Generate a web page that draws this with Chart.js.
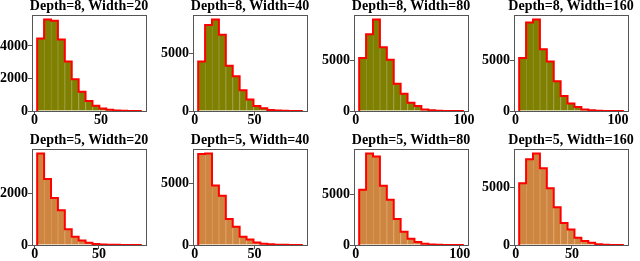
<!DOCTYPE html>
<html>
<head>
<meta charset="utf-8">
<script src="https://cdn.jsdelivr.net/npm/chart.js@4.4.0/dist/chart.umd.min.js"></script>
<style>
  html, body { margin: 0; padding: 0; background: #fff; }
  body { width: 640px; height: 261px; position: relative; overflow: hidden; }
  .panel { position: absolute; }
</style>
</head>
<body>
<script>
// panel titles, row by row
const titles = [
  'Depth=8, Width=20', 'Depth=8, Width=40', 'Depth=8, Width=80', 'Depth=8, Width=160',
  'Depth=5, Width=20', 'Depth=5, Width=40', 'Depth=5, Width=80', 'Depth=5, Width=160'
];

// histogram range (first / last bin edge), 15 bins each
const binStart = [2.0, 2.9, 3.2, 3.5, 1.9, 2.9, 3.4, 3.1];
const binEnd   = [80.0, 89.7, 98.9, 104.7, 82.7, 89.4, 103.0, 95.2];

// bin counts
const countsD8W20  = [4450, 5620, 5550, 4400, 3050, 1950, 1180, 620, 320, 160, 70, 30, 12, 5, 2];
const countsD8W40  = [4330, 7500, 7980, 6650, 3960, 3030, 1820, 1000, 430, 230, 90, 40, 15, 6, 2];
const countsD8W80  = [5260, 7630, 9090, 6350, 5100, 2700, 1710, 820, 490, 160, 70, 30, 12, 5, 2];
const countsD8W160 = [5230, 8730, 9030, 6110, 4900, 2940, 1470, 750, 390, 160, 70, 30, 12, 5, 2];
const countsD5W20  = [3560, 2570, 1830, 1350, 610, 320, 180, 90, 40, 20, 10, 5, 3, 2, 1];
const countsD5W40  = [7350, 7390, 4800, 3980, 2110, 1470, 670, 450, 200, 110, 60, 30, 15, 6, 2];
const countsD5W80  = [5420, 8980, 8700, 5810, 4450, 2560, 1300, 620, 290, 130, 60, 25, 10, 4, 2];
const countsD5W160 = [5340, 7400, 7900, 6630, 4910, 3260, 1910, 1340, 630, 340, 200, 60, 25, 10, 3];
const allCounts = [countsD8W20, countsD8W40, countsD8W80, countsD8W160,
                   countsD5W20, countsD5W40, countsD5W80, countsD5W160];

// tick labels
const xTicks = [[0, 50], [0, 50], [0, 100], [0, 100], [0, 50], [0, 50], [0, 100], [0, 50]];
const yTicks = [[0, 2000, 4000], [0, 5000], [0, 5000], [0, 5000], [0, 2000], [0, 5000], [0, 5000], [0, 5000]];

// layout
const COL_LEFT = [32, 193, 354, 514];
const ROW_TOP = [15, 149];
const BOX_W = 114, BOX_H = 96;
const Y_AXIS_W = 32, TITLE_H = 15, X_AXIS_H = 15, RIGHT_PAD = 14;
const FONT = '"Liberation Serif", "Times New Roman", serif';
const AXIS_COLOR = '#555';
const FILL = ['#7f7f00', '#cd853f'];
const SEAM = ['#95953a', '#dc9d62'];

// box round the axes, plus the panel title centred over it
const framePlugin = {
  id: 'frame',
  afterDraw(chart, args, opts) {
    const { ctx, chartArea: a } = chart;
    const al = p => Math.round(p - 0.5) + 0.5;
    ctx.save();
    ctx.strokeStyle = AXIS_COLOR;
    ctx.lineWidth = 1;
    ctx.strokeRect(al(a.left), al(a.top), al(a.right) - al(a.left), al(a.bottom) - al(a.top));
    ctx.fillStyle = '#000';
    ctx.font = 'bold 14px ' + FONT;
    ctx.textAlign = 'center';
    ctx.textBaseline = 'alphabetic';
    ctx.fillText(opts.text, (a.left + a.right) / 2, a.top - 5.5);
    ctx.restore();
  }
};

function makePanel(i) {
  const row = Math.floor(i / 4), col = i % 4;
  const canvas = document.createElement('canvas');
  const w = Y_AXIS_W + BOX_W + RIGHT_PAD;
  const h = TITLE_H + BOX_H + X_AXIS_H;
  canvas.width = w; canvas.height = h;
  canvas.className = 'panel';
  canvas.style.left = (COL_LEFT[col] - Y_AXIS_W) + 'px';
  canvas.style.top = (ROW_TOP[row] - TITLE_H) + 'px';
  canvas.style.width = w + 'px'; canvas.style.height = h + 'px';
  document.body.appendChild(canvas);

  const counts = allCounts[i];
  const a = binStart[i], b = binEnd[i];
  const bw = (b - a) / counts.length;
  const edges = counts.map((_, k) => a + k * bw).concat([b]);
  const bars = counts.map((c, k) => ({ x: (edges[k] + edges[k + 1]) / 2, y: c }));
  const outline = [{ x: edges[0], y: 0 }]
    .concat(counts.map((c, k) => ({ x: edges[k], y: c })))
    .concat([{ x: edges[counts.length], y: 0 }]);
  const pad = 0.05 * (b - a);
  const yMax = Math.max(...counts) * 1.05;
  const tone = row;

  new Chart(canvas, {
    type: 'bar',
    data: {
      datasets: [
        {
          type: 'bar', data: bars, order: 1,
          backgroundColor: FILL[tone], borderColor: SEAM[tone],
          borderWidth: { left: 1, right: 0, top: 0, bottom: 0 }, borderSkipped: false,
          barPercentage: 1, categoryPercentage: 1
        },
        {
          type: 'line', data: outline, order: 0, stepped: true,
          borderColor: '#ff0000', borderWidth: 2, pointRadius: 0, fill: false
        }
      ]
    },
    options: {
      responsive: false, animation: false, devicePixelRatio: 1,
      layout: { padding: { left: 0, right: RIGHT_PAD, top: TITLE_H, bottom: 0 }, autoPadding: false },
      plugins: {
        legend: { display: false }, tooltip: { enabled: false },
        frame: { text: titles[i] }
      },
      scales: {
        x: {
          type: 'linear', min: a - pad, max: b + pad, offset: false,
          grid: { display: true, drawOnChartArea: false, drawTicks: true, tickLength: 4, color: AXIS_COLOR, offset: false },
          border: { display: false },
          ticks: { color: '#000', padding: -2, maxRotation: 0, font: { family: FONT, size: 14, weight: 'bold', lineHeight: 1 }, callback: v => String(v) },
          afterBuildTicks: s => { s.ticks = xTicks[i].map(v => ({ value: v })); },
          afterFit: s => { s.height = X_AXIS_H; s.paddingLeft = 0; s.paddingRight = 0; }
        },
        y: {
          type: 'linear', min: 0, max: yMax,
          grid: { display: true, drawOnChartArea: false, drawTicks: true, tickLength: 4, color: AXIS_COLOR },
          border: { display: false },
          ticks: { color: '#000', padding: 0, font: { family: FONT, size: 14, weight: 'bold', lineHeight: 1 }, callback: v => String(v) },
          afterBuildTicks: s => { s.ticks = yTicks[i].map(v => ({ value: v })); },
          afterFit: s => { s.width = Y_AXIS_W; s.paddingTop = 0; s.paddingBottom = 0; }
        }
      }
    },
    plugins: [framePlugin]
  });
}

titles.forEach((_, i) => makePanel(i));
</script>
</body>
</html>
